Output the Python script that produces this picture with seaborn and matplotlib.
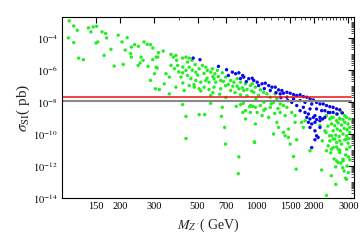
import numpy as np
import pandas as pd
import matplotlib
matplotlib.use("Agg")
import matplotlib.pyplot as plt
import matplotlib.ticker as mticker
import seaborn as sns

# ---- data (M in GeV, log10 of sigma in pb) ----
green_M = [109, 115, 120, 108, 115, 137, 145, 151, 141, 161, 168, 170, 153, 150, 122, 129, 165, 179,
           195, 204, 217, 212, 228, 237, 248, 226, 228, 207, 186, 256, 262, 247, 253, 265, 275, 286,
           294, 314, 306, 294, 278, 310, 300, 286, 303,
           333, 312, 306, 365, 375, 387, 390, 365, 395, 344, 358, 337, 318, 419, 436, 453, 468, 444,
           486, 453, 436, 419, 411, 444, 462, 490, 510, 530, 552, 562, 585, 597, 615, 633, 671, 490,
           520, 552, 573, 608, 621, 658, 698, 741, 770, 801, 833, 884, 937, 453, 481, 510, 541, 573,
           608, 658, 698, 741, 817, 866, 358, 427, 387, 585, 833,
           419, 436, 510, 545, 585, 671, 664, 690, 436, 698, 817, 811, 792, 833, 861, 857, 884, 929,
           963, 937, 884, 986,
           957, 994, 1054, 1097, 975, 1033, 1140, 1186, 1258, 1283, 1233, 1334, 1387, 1445, 937, 994,
           1054, 1118, 1186, 1015, 1076, 1334, 1415, 1531, 1592, 2312, 2455, 2606, 2763, 2871, 2707,
           994, 982, 1164, 1233, 1283, 1309, 1387, 1415, 1472, 1502, 1592, 1624, 1563, 1612, 1722,
           1757, 1901, 2182, 2312, 2582, 2896, 2813, 2655, 2312, 2455, 2502, 2655, 2606, 2763, 2933,
           2933,
           2406, 2502, 2606, 2707, 2813, 2933, 3045, 2455, 2552, 2655, 2763, 2871, 2985, 3045, 2502,
           2625, 2727, 2852, 2953, 3045, 2455, 2582, 2690, 2813, 2933, 3020, 2406, 2552, 2707, 2871,
           2985,
           2933, 1472, 2707, 2606, 2813, 2430, 3000, 2530, 2740, 2950, 2580, 2850,
           1792, 2139, 2268, 2200, 2360,
           380, 400, 420, 470, 500, 540, 560, 600, 640, 680, 720, 760, 800, 850, 900, 950, 420, 480,
           520, 600, 650, 700, 780, 900, 1000, 1100, 1200, 1300, 1100, 1250,
           2300, 2400, 2350, 2500, 2600, 2700, 2900, 3050, 3050, 2800, 2450, 3000]
green_logS = [-2.91, -3.23, -3.50, -3.98, -4.27, -3.35, -3.29, -3.25, -3.60, -3.60, -3.70, -3.98,
              -4.23, -4.30, -5.24, -5.34, -5.07, -4.69, -3.81, -4.23, -3.96, -4.74, -4.55, -4.40,
              -4.50, -4.96, -5.18, -5.64, -5.74, -5.18, -5.38, -5.70, -5.55, -4.23, -4.38, -4.40,
              -4.61, -4.90, -5.18, -5.34, -5.76, -5.87, -6.22, -6.64, -7.16,
              -4.80, -5.18, -5.81, -5.01, -5.18, -5.07, -5.38, -5.70, -5.70, -6.22, -6.43, -6.85,
              -7.21, -5.24, -5.18, -5.24, -5.38, -5.49, -5.65, -5.81, -6.01, -6.16, -6.43, -6.33,
              -6.53, -6.12, -5.91, -5.70, -5.81, -6.01, -6.12, -5.91, -6.22, -6.01, -6.16, -6.64,
              -6.75, -6.64, -6.75, -6.53, -6.75, -6.64, -6.43, -6.64, -6.75, -6.53, -6.75, -6.85,
              -6.96, -6.96, -7.06, -7.16, -7.06, -7.21, -7.06, -7.16, -6.96, -7.27, -7.16, -7.27,
              -7.48, -7.27, -7.06, -7.58, -7.54,
              -8.15, -8.89, -8.78, -8.78, -8.07, -8.32, -8.89, -9.58, -10.27, -10.62, -11.42, -12.47,
              -8.26, -8.15, -8.07, -8.64, -8.53, -8.28, -8.26, -8.64, -9.05, -10.52,
              -6.85, -7.06, -7.23, -7.38, -7.38, -7.58, -7.48, -7.69, -7.48, -7.79, -8.01, -8.11,
              -8.21, -8.32, -8.21, -8.32, -8.21, -8.42, -8.32, -8.64, -8.84, -8.64, -8.84, -8.64,
              -8.84, -8.84, -8.95, -8.74, -8.64, -8.84, -9.05,
              -9.36, -10.48, -8.95, -9.99, -9.26, -9.58, -9.89, -10.10, -9.68, -10.62, -9.26, -10.35,
              -11.40, -12.19, -9.26, -9.58, -11.04, -12.24, -13.83, -13.14, -12.76, -11.57, -11.78,
              -11.04, -10.94, -10.84, -10.94, -10.52, -10.62, -10.94, -10.31,
              -9.05, -8.95, -9.16, -9.01, -9.09, -8.95, -9.05, -9.36, -9.47, -9.30, -9.43, -9.26,
              -9.36, -9.58, -9.79, -9.68, -9.79, -9.64, -9.72, -9.89, -10.10, -10.06, -10.14, -9.99,
              -10.10, -10.27, -10.42, -10.31, -10.42, -10.35, -10.56,
              -12.82, -10.21, -11.15, -11.67, -11.67, -11.17, -11.42, -11.55, -11.80, -11.99, -12.05,
              -12.30,
              -9.16, -9.47, -9.79, -10.42, -10.73,
              -5.90, -6.10, -5.80, -6.00, -6.30, -6.20, -6.50, -6.40, -6.40, -6.70, -6.90, -7.00,
              -7.00, -7.10, -7.20, -7.30, -6.80, -6.90, -7.30, -7.40, -7.50, -7.70, -7.40, -7.60,
              -7.80, -8.00, -8.10, -8.40, -8.50, -8.70,
              -9.90, -10.10, -9.50, -10.30, -10.80, -11.00, -11.30, -10.80, -11.60, -12.10, -12.60,
              -12.40]

blue_M = [475, 515, 641, 706, 756, 786, 817, 855, 866, 918, 957, 975,
          1015, 1076, 1118, 1164, 1210, 1258, 1309, 1361, 1387, 1445, 1502, 1563, 1624, 1690, 1757,
          1829, 1901, 1977, 2055, 2139, 2223, 2312, 2406, 2502, 2606, 2707, 1334, 1445, 1563, 1690,
          1792, 1940, 1531, 1624, 1757, 1901, 2055, 2182, 2360, 2502, 1866, 2016, 2139, 1690, 1792,
          1829, 1901, 1977, 2055, 1866, 1940, 2016, 2139, 2208, 1901, 2139, 2016, 2055, 2094, 2016,
          1940, 2268,
          721, 833, 893, 1033, 1105, 1186, 1270, 1345, 1460, 2268, 2406, 2620, 2790]
blue_logS = [-5.24, -5.34, -5.76, -5.97, -6.12, -6.22, -6.16, -6.33, -6.43, -6.53, -6.50, -6.64,
             -6.75, -6.85, -6.81, -6.96, -7.06, -7.06, -7.23, -7.27, -7.44, -7.38, -7.44, -7.52,
             -7.58, -7.54, -7.65, -7.69, -7.79, -7.86, -8.01, -8.11, -8.11, -8.21, -8.28, -8.32,
             -8.42, -8.48, -7.48, -7.69, -7.79, -7.90, -8.01, -8.11, -8.01, -8.21, -8.32, -8.42,
             -8.42, -8.53, -8.64, -8.64, -8.74, -8.84, -8.95, -8.53, -8.64, -8.95, -9.05, -8.95,
             -9.09, -9.26, -9.36, -9.26, -9.16, -9.05, -9.58, -9.58, -9.79, -10.10, -10.21, -10.35,
             -10.84, -8.95,
             -6.33, -6.52, -6.71, -6.96, -7.15, -7.27, -7.40, -7.71, -7.90, -8.53, -8.65, -8.74,
             -8.67]

limit_x = [100, 3100]
red_limit = [2.0e-8, 2.0e-8]
gray_limit = [1.15e-8, 1.15e-8]

x_ticks = [150, 200, 300, 500, 700, 1000, 1500, 2000, 3000]
x_minor = [100, 400, 600, 800, 900, 1100, 1200, 1300, 1400, 1600, 1700, 1800, 1900,
           2100, 2200, 2300, 2400, 2500, 2600, 2700, 2800, 2900, 3100]
y_ticks_exp = [-14, -12, -10, -8, -6, -4]

# ---- style ----
sns.set_style("white")
plt.rcParams["font.family"] = ["Liberation Serif", "DejaVu Serif"]
plt.rcParams["mathtext.fontset"] = "stix"

df_g = pd.DataFrame({"M": green_M, "sigma": np.power(10.0, green_logS)})
df_b = pd.DataFrame({"M": blue_M, "sigma": np.power(10.0, blue_logS)})

fig = plt.figure(figsize=(3.6, 2.41), dpi=100)
ax = fig.add_axes([0.172, 0.178, 0.811, 0.751])

sns.scatterplot(data=df_g, x="M", y="sigma", ax=ax, color="#22ee22", s=6,
                edgecolor="none", linewidth=0)
sns.scatterplot(data=df_b, x="M", y="sigma", ax=ax, color="#0a0ae6", s=6,
                edgecolor="none", linewidth=0)
sns.lineplot(x=limit_x, y=red_limit, ax=ax, color="#ee1111", linewidth=1.1)
sns.lineplot(x=limit_x, y=gray_limit, ax=ax, color="#888888", linewidth=1.5)

ax.set_xscale("log")
ax.set_yscale("log")
ax.set_xlim(100, 3200)
ax.set_ylim(1e-14, 2.1e-3)

ax.xaxis.set_major_locator(mticker.FixedLocator(x_ticks))
ax.xaxis.set_major_formatter(mticker.FixedFormatter([str(v) for v in x_ticks]))
ax.xaxis.set_minor_locator(mticker.FixedLocator(x_minor))
ax.xaxis.set_minor_formatter(mticker.NullFormatter())

yt = [10.0 ** e for e in y_ticks_exp]
ax.yaxis.set_major_locator(mticker.FixedLocator(yt))
ax.yaxis.set_major_formatter(mticker.FixedFormatter([r"$10^{%d}$" % e for e in y_ticks_exp]))
ax.yaxis.set_minor_locator(mticker.LogLocator(base=10, subs=np.arange(1, 10), numticks=40))
ax.yaxis.set_minor_formatter(mticker.NullFormatter())

ax.tick_params(which="both", direction="in", top=True, right=True, colors="black",
               labelsize=7.5, pad=3)
ax.tick_params(which="major", length=4, width=0.8)
ax.tick_params(which="minor", length=2, width=0.5)
for sp in ax.spines.values():
    sp.set_color("black")
    sp.set_linewidth(0.8)

ax.set_xlabel(r"$M_{Z^{\,\prime}}$( GeV)", fontsize=10, labelpad=4)
ax.set_ylabel(r"$\sigma_{\rm SI}$( pb)", fontsize=11, labelpad=1)

fig.savefig("out.png", dpi=100)
